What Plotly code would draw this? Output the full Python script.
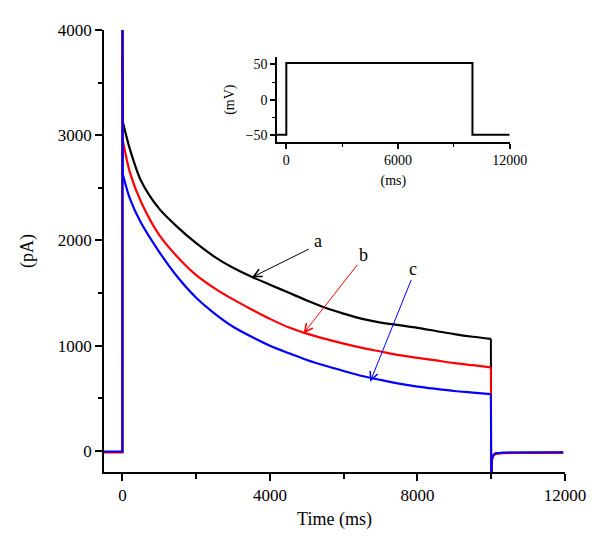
import plotly.graph_objects as go

# Time points (ms) at which the traces were read
pre_t = [-500, -250, -1, 0, 10]
decay_t = [10, 200, 500, 1000, 1500, 2000, 2500, 3000, 3500,
           4000, 4500, 5000, 5500, 6000, 6500, 7000, 7500, 8000, 8500, 9000,
           9500, 9990]
post_t = [9990, 10000, 10020, 10060, 10120, 10300, 10600, 11000, 11500, 11950]

pre_a = [-10, -8, -10, 4500, 3127]
decay_a = [3127, 2870, 2570, 2300, 2125, 1975, 1845, 1740, 1655,
           1580, 1505, 1430, 1360, 1305, 1255, 1220, 1195, 1170, 1140, 1110,
           1085, 1065]
post_a = [1065, -400, -80, -40, -25, -18, -16, -15, -14, -15]

pre_b = [-15, -12, -14, 4500, 2950]
decay_b = [2950, 2650, 2370, 2050, 1840, 1670, 1545, 1440, 1345,
           1255, 1175, 1115, 1065, 1020, 980, 945, 910, 885, 860, 835,
           815, 795]
post_b = [795, -400, -90, -45, -30, -22, -20, -18, -18, -20]

pre_c = [-5, -3, -5, 4500, 2630]
decay_c = [2630, 2400, 2170, 1890, 1650, 1455, 1305, 1180, 1085,
           1000, 930, 865, 810, 760, 712, 675, 640, 612, 590, 570,
           555, 540]
post_c = [540, -400, -70, -35, -22, -16, -14, -12, -12, -13]

# Inset voltage protocol
inset_t = [-500, 0, 0, 10000, 10000, 12000]
inset_v = [-50, -50, 52, 52, -50, -50]

x_ticks = [0, 4000, 8000, 12000]
x_labels = ["0", "4000", "8000", "12000"]
y_ticks = [0, 1000, 2000, 3000, 4000]
inset_x_ticks = [0, 6000, 12000]
inset_x_labels = ["0", "6000", "12000"]
inset_y_ticks = [-50, 0, 50]
inset_y_labels = ["\u221250", "0", "50"]

FONT = "Liberation Serif"

fig = go.Figure()
series = [
    (pre_a, decay_a, post_a, "black"),
    (pre_b, decay_b, post_b, "red"),
    (pre_c, decay_c, post_c, "blue"),
]
for pre, dec, post, col in series:
    fig.add_trace(go.Scatter(x=pre_t, y=pre, mode="lines", line=dict(color=col, width=2),
                             showlegend=False, xaxis="x", yaxis="y"))
    fig.add_trace(go.Scatter(x=decay_t, y=dec, mode="lines",
                             line=dict(color=col, width=2.2, shape="spline", smoothing=0.8),
                             showlegend=False, xaxis="x", yaxis="y"))
    fig.add_trace(go.Scatter(x=post_t, y=post, mode="lines", line=dict(color=col, width=2),
                             showlegend=False, xaxis="x", yaxis="y"))

fig.add_trace(go.Scatter(x=inset_t, y=inset_v, mode="lines",
                         line=dict(color="black", width=2), showlegend=False,
                         xaxis="x2", yaxis="y2"))

axis_common = dict(showgrid=False, zeroline=False, showline=True, linecolor="black",
                   linewidth=1.5, ticks="outside", tickcolor="black", tickwidth=1.5,
                   tickfont=dict(family=FONT, size=17, color="black"))

fig.update_layout(
    width=600, height=554,
    margin=dict(l=104, r=35, t=30, b=82),
    plot_bgcolor="white", paper_bgcolor="white",
    font=dict(family=FONT, color="black"),
    xaxis=dict(axis_common, domain=[0, 1], range=[-500, 12000], tickvals=x_ticks,
               ticktext=x_labels, ticklen=7,
               minor=dict(dtick=2000, tick0=0, ticklen=5, ticks="outside", tickcolor="black", tickwidth=1.5),
               title=dict(text="Time (ms)", font=dict(family=FONT, size=18), standoff=8)),
    yaxis=dict(axis_common, domain=[0, 1], range=[-200, 4000], tickvals=y_ticks,
               ticklen=7,
               minor=dict(dtick=500, tick0=0, ticklen=4, ticks="outside", tickcolor="black", tickwidth=1.5),
               title=dict(text="(pA)", font=dict(family=FONT, size=18), standoff=20)),
    xaxis2=dict(axis_common, domain=[0.3753, 0.880], range=[-500, 12000], tickvals=inset_x_ticks,
                ticktext=inset_x_labels, anchor="y2", ticklen=5,
                tickfont=dict(family=FONT, size=14, color="black"),
                minor=dict(dtick=3000, tick0=0, ticklen=3, ticks="outside", tickcolor="black", tickwidth=1),
                title=dict(text="(ms)", font=dict(family=FONT, size=14), standoff=8)),
    yaxis2=dict(axis_common, domain=[0.747, 0.938], range=[-60, 60], tickvals=inset_y_ticks,
                ticktext=inset_y_labels, anchor="x2", ticklen=5,
                tickfont=dict(family=FONT, size=14, color="black"),
                minor=dict(dtick=25, tick0=0, ticklen=3, ticks="outside", tickcolor="black", tickwidth=1),
                title=dict(text="(mV)", font=dict(family=FONT, size=14), standoff=8)),
)

# Arrows (tail -> tip) and labels
arrows = [
    ("a", "black", 3513, 1650, 5093, 1925, 5316, 1995),
    ("b", "red", 4911, 1117, 6399, 1782, 6536, 1866),
    ("c", "blue", 6718, 658, 7847, 1640, 7873, 1725),
]
for lab, col, x, y, ax, ay, tx, ty in arrows:
    fig.add_annotation(x=x, y=y, ax=ax, ay=ay, xref="x", yref="y", axref="x", ayref="y",
                       text="", showarrow=True, arrowhead=5, arrowsize=1.6, arrowwidth=1,
                       arrowcolor=col)
    fig.add_annotation(x=tx, y=ty, xref="x", yref="y", text=lab, showarrow=False,
                       font=dict(family=FONT, size=18, color="black"))

fig.write_html("out.html", config={"displayModeBar": False},
               post_script="document.body.style.margin='0';")
